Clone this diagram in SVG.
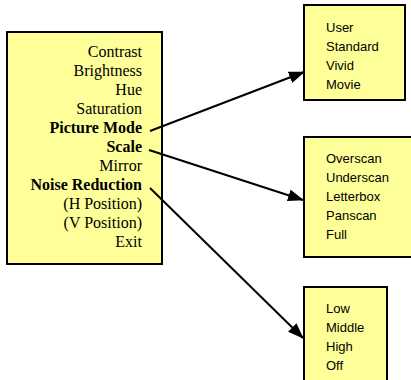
<svg xmlns="http://www.w3.org/2000/svg" width="411" height="380" viewBox="0 0 411 380">
<style>
.box{fill:#FFFF99;stroke:#000;stroke-width:2}
.m{font-family:"Liberation Serif","Times New Roman",serif;font-size:16px;fill:#000;text-anchor:end}
.b{font-weight:bold}
.s{font-family:"Liberation Sans",Arial,sans-serif;font-size:13px;fill:#000}
.c{stroke:#000;stroke-width:2;fill:none;marker-end:url(#ah)}
</style>
<defs>
<marker id="ah" markerWidth="16" markerHeight="12" refX="15" refY="6" orient="auto" markerUnits="userSpaceOnUse">
<path d="M0,0 L16,6 L0,12 Z" fill="#000"/>
</marker>
</defs>
<rect width="411" height="380" fill="#fff"/>
<g id="main">
<rect class="box" x="7" y="32" width="155" height="232"/>
<text class="m" x="142" y="57">Contrast</text>
<text class="m" x="142" y="76">Brightness</text>
<text class="m" x="142" y="95">Hue</text>
<text class="m" x="142" y="114">Saturation</text>
<text class="m b" x="142" y="133">Picture Mode</text>
<text class="m b" x="142" y="152">Scale</text>
<text class="m" x="142" y="171">Mirror</text>
<text class="m b" x="142" y="190">Noise Reduction</text>
<text class="m" x="142" y="209">(H Position)</text>
<text class="m" x="142" y="228">(V Position)</text>
<text class="m" x="142" y="247">Exit</text>
</g>
<g id="picturemode">
<rect class="box" x="304" y="5" width="101" height="95"/>
<text class="s" x="326" y="32">User</text>
<text class="s" x="326" y="51">Standard</text>
<text class="s" x="326" y="70">Vivid</text>
<text class="s" x="326" y="89">Movie</text>
</g>
<g id="scale">
<rect class="box" x="304" y="137" width="112" height="120"/>
<text class="s" x="326" y="163">Overscan</text>
<text class="s" x="326" y="182">Underscan</text>
<text class="s" x="326" y="201">Letterbox</text>
<text class="s" x="326" y="220">Panscan</text>
<text class="s" x="326" y="239">Full</text>
</g>
<g id="noise">
<rect class="box" x="304" y="287" width="83" height="100"/>
<text class="s" x="326" y="313">Low</text>
<text class="s" x="326" y="332">Middle</text>
<text class="s" x="326" y="351">High</text>
<text class="s" x="326" y="370">Off</text>
</g>
<g id="connectors">
<line class="c" x1="150" y1="131" x2="304" y2="72"/>
<line class="c" x1="149" y1="150" x2="303" y2="200"/>
<line class="c" x1="150" y1="188" x2="303" y2="338"/>
</g>
</svg>
